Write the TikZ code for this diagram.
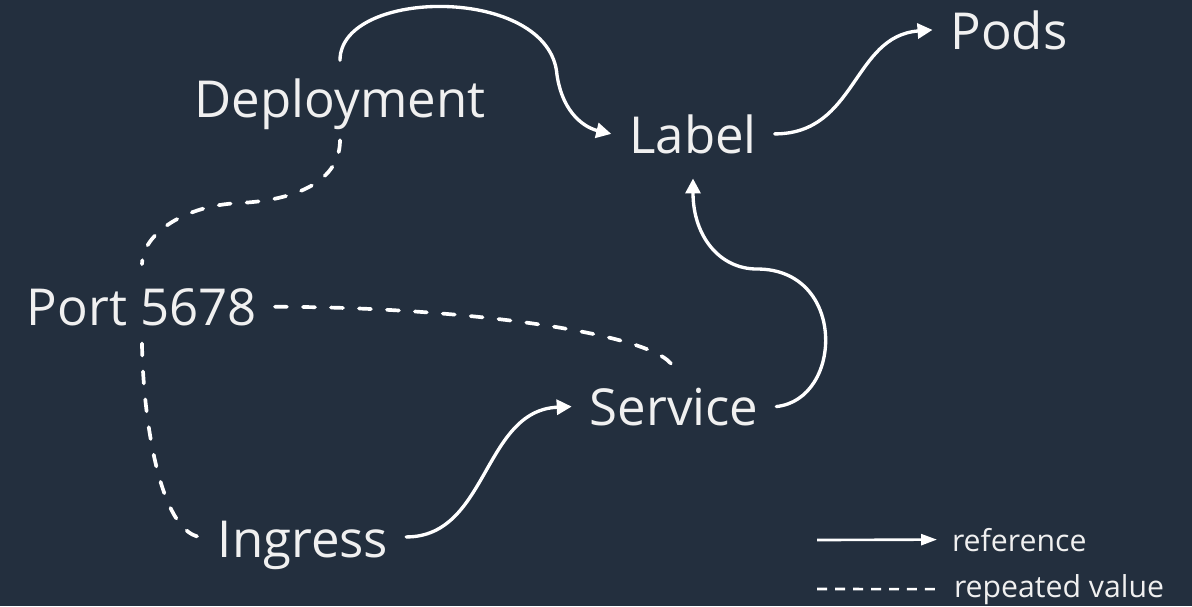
\documentclass[tikz,border=0pt]{standalone}
\usepackage{fontspec}
\setmainfont{Open Sans}
\usepackage{tikz}
\usetikzlibrary{arrows.meta}
\definecolor{squid}{HTML}{232F3E}
\definecolor{paper}{HTML}{F0F0F0}
\tikzstyle{term} = [text=paper, font=\fontsize{29}{35}\selectfont,
    inner sep=0.36cm, outer sep=0pt, anchor=base]
\tikzstyle{keytext} = [text=paper, font=\fontsize{17.2}{20}\selectfont,
    inner sep=0.3cm, outer sep=0pt, anchor=base west]
\tikzstyle{line} = [draw=white, line width=1.9pt, line cap=round,
    -{Triangle[length=0.3cm,width=0.3cm]}]
\tikzstyle{same} = [draw=white, line width=2.1pt, line cap=round,
    dash pattern=on 0.24cm off 0.32cm]
\tikzstyle{keyline} = [draw=white, line width=1.5pt, -{Triangle[length=0.32cm,width=0.22cm]}]
\tikzstyle{keysame} = [draw=white, line width=1.5pt, dash pattern=on 0.2cm off 0.16cm]

\begin{document}
\begin{tikzpicture}[x=0.02cm,y=-0.02cm]
    \fill[squid] (0,0) rectangle (1192,606);
    \useasboundingbox (0,0) rectangle (1192,606);
    % Place nodes
    \node[term] (dep) at (340,117) {Deployment};
    \node[term] (lab) at (693,153) {Label};
    \node[term] (pods) at (1009,49) {Pods};
    \node[term] (port) at (142,325) {Port 5678};
    \node[term] (svc) at (674,425) {Service};
    \node[term] (ing) at (303,557) {Ingress};
    \coordinate (bend1) at (557,75);
    \coordinate (bend2) at (757,269);
    \coordinate (bend3) at (240,203);
    % Draw edges
    \path [line] (dep.north) .. controls +(0,-73) and +(-7,-90) .. (bend1)
        .. controls +(6,40) and +(-25,-6) .. (lab.west);
    \path [line] (lab.east) .. controls +(82,0) and +(-80,6) .. (pods.west);
    \path [line] (svc.east) .. controls +(67,-7) and +(90,0) .. (bend2)
        .. controls +(-38,0) and +(0,57) .. ([yshift=-0.14cm]lab.south);
    \path [line] ([yshift=0.16cm]ing.east) .. controls +(82,0) and +(-89,4) .. (svc.west);
    \path [same] ([yshift=0.14cm]dep.south) .. controls +(0,40) and +(58,-3) .. (bend3)
        .. controls +(-55,2) and +(0,-30) .. ([yshift=0.12cm]port.north);
    \path [same] (port.south) .. controls +(1,75) and +(-40,-6) .. ([yshift=0.16cm]ing.west);
    \path [same] (port.east) .. controls +(197,0) and +(-6,-34) .. (svc.north);
    % Legend
    \coordinate (keyA) at (817,540);
    \coordinate (keyB) at (817,589);
    \node[keytext] (keyref) at (937,551) {reference};
    \node[keytext] (keyrep) at (939,597) {repeated value};
    \path [keyline] (keyA) -- (keyref.west);
    \path [keysame] (keyB) -- (keyrep.west);
\end{tikzpicture}
\end{document}
